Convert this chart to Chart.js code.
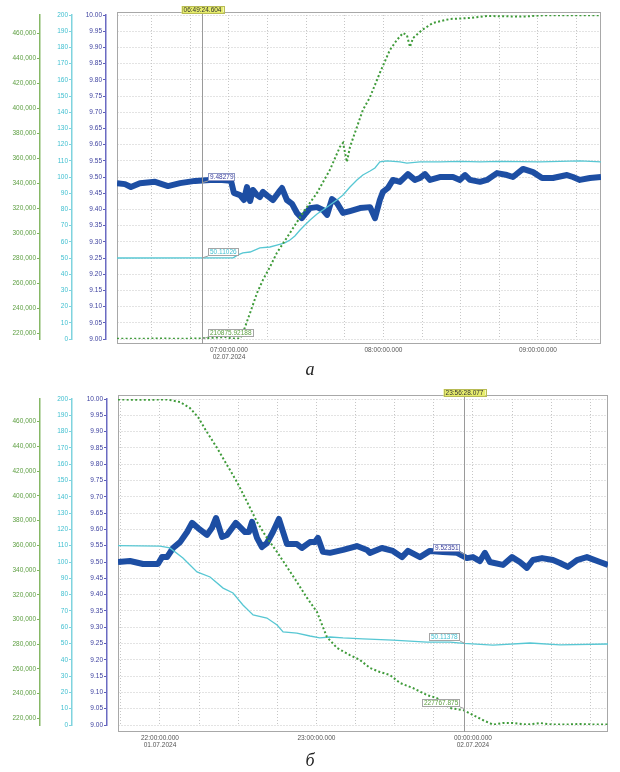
<!DOCTYPE html>
<html>
<head>
<meta charset="utf-8">
<script src="https://cdn.jsdelivr.net/npm/chart.js@4.4.0/dist/chart.umd.min.js"></script>
<style>
body{margin:0;background:#fff;width:620px;height:772px;position:relative;overflow:hidden}
canvas{position:absolute;left:0}
.cap{position:absolute;left:0;width:620px;text-align:center;font:italic 18px "Liberation Serif",serif;color:#222}
</style>
</head>
<body>
<canvas id="chartA" width="620" height="365" style="top:0"></canvas>
<div class="cap" style="top:359px">а</div>
<canvas id="chartB" width="620" height="370" style="top:384px"></canvas>
<div class="cap" style="top:750px">б</div>
<script>
// time in minutes from 00:00 of 01.07 / 02.07 (values past 1440 are after midnight)

const greenTicks = [220000, 240000, 260000, 280000, 300000, 320000, 340000, 360000, 380000, 400000, 420000, 440000, 460000];

// --- panel a ---
const rangeA = [376.5, 564.5];
const datesA = [[420, '02.07.2024']];
const greenRangeA = [215400, 474600];
const cursorA = 409.41;
const cursorTextA = '06:49:24.604';
const cursorValuesA = ['9.48279', '50.11026', '210875.92188'];

const blueA = [[376.5,9.481],[379.6,9.478],[381.9,9.469],[385.4,9.481],[391.3,9.485],[396.3,9.472],[401.0,9.481],[406.8,9.488],[412.6,9.491],[417.3,9.491],[420.8,9.488],[421.9,9.451],[424.3,9.444],[425.8,9.429],[427.0,9.469],[428.2,9.426],[429.3,9.460],[430.9,9.444],[432.0,9.438],[433.2,9.454],[435.1,9.441],[437.1,9.429],[439.4,9.454],[440.6,9.466],[442.5,9.429],[444.5,9.417],[446.4,9.389],[448.3,9.373],[449.9,9.389],[451.5,9.404],[454.2,9.407],[456.5,9.398],[458.1,9.383],[460.0,9.432],[461.9,9.420],[464.3,9.389],[467.0,9.395],[470.9,9.404],[474.8,9.407],[476.7,9.373],[478.6,9.429],[479.8,9.454],[481.7,9.466],[483.7,9.491],[486.4,9.485],[489.5,9.509],[492.2,9.491],[494.2,9.497],[496.1,9.509],[498.1,9.491],[501.9,9.500],[507.0,9.500],[509.7,9.491],[511.7,9.506],[513.6,9.491],[517.5,9.485],[520.2,9.491],[524.1,9.512],[528.0,9.506],[530.3,9.500],[534.2,9.525],[538.1,9.515],[541.6,9.497],[545.8,9.497],[551.3,9.506],[553.6,9.500],[556.3,9.491],[560.2,9.497],[564.5,9.500]];

const cyanA = [[376.5,50.0],[421.6,50.1],[423.5,51.9],[425.4,53.1],[428.2,53.7],[432.0,56.2],[435.9,56.8],[438.6,58.0],[441.7,59.3],[443.7,61.1],[445.6,63.6],[447.6,67.3],[449.5,70.4],[451.5,73.5],[454.2,77.2],[456.5,79.6],[459.2,82.7],[461.9,85.8],[464.3,88.9],[467.0,93.8],[469.7,98.1],[472.0,101.2],[474.8,103.7],[476.7,105.6],[478.6,109.3],[481.4,109.9],[486.4,109.3],[489.1,108.6],[494.2,109.3],[501.9,109.3],[509.7,109.6],[517.5,109.3],[525.2,109.6],[540.8,109.3],[556.3,109.9],[564.5,109.3]];

const greenA = [[376.5,215600],[385.4,215600],[393.2,215800],[401.0,215600],[408.7,215800],[414.6,216500],[418.4,217000],[421.2,215800],[424.3,215800],[425.4,220200],[428.2,236300],[430.9,252300],[433.2,262700],[435.9,273000],[438.6,284300],[443.7,300300],[448.7,316300],[454.2,332300],[459.2,350700],[463.1,369100],[464.3,372300],[465.8,357000],[467.0,369100],[469.7,385000],[472.0,398600],[474.8,409000],[478.6,428300],[482.5,446600],[485.2,454600],[487.6,460200],[489.1,458600],[490.3,449000],[491.5,456200],[495.0,462600],[499.2,468200],[505.8,471400],[513.6,472200],[520.2,473800],[529.1,473500],[535.7,473500],[541.9,474400],[551.3,474400],[564.5,474400]];

// --- panel b ---
const rangeB = [1303.9, 1491.8];
const datesB = [[1320, '01.07.2024'], [1440, '02.07.2024']];
const greenRangeB = [214580, 478370];
const cursorB = 1436.47;
const cursorTextB = '23:56:28.077';
const cursorValuesB = ['9.52351', '50.11378', '227767.875'];

const blueB = [[1303.9,9.500],[1308.5,9.503],[1313.5,9.494],[1319.2,9.494],[1320.8,9.515],[1322.7,9.515],[1325.0,9.543],[1327.7,9.561],[1330.4,9.592],[1332.3,9.620],[1334.6,9.604],[1338.0,9.583],[1339.9,9.604],[1341.5,9.635],[1343.8,9.577],[1345.7,9.583],[1349.1,9.620],[1352.6,9.592],[1354.1,9.592],[1355.3,9.623],[1357.2,9.574],[1359.1,9.546],[1361.0,9.558],[1363.3,9.592],[1365.6,9.632],[1368.7,9.555],[1372.5,9.555],[1374.4,9.543],[1377.5,9.561],[1379.4,9.561],[1380.6,9.574],[1382.5,9.531],[1385.2,9.528],[1390.2,9.537],[1395.5,9.549],[1399.4,9.537],[1400.5,9.528],[1405.1,9.543],[1409.3,9.534],[1412.8,9.515],[1415.1,9.534],[1419.7,9.515],[1423.5,9.534],[1428.5,9.531],[1433.9,9.528],[1437.7,9.512],[1440.0,9.515],[1442.7,9.503],[1444.6,9.528],[1446.5,9.500],[1451.5,9.491],[1455.0,9.515],[1458.0,9.500],[1460.7,9.482],[1463.0,9.506],[1466.5,9.512],[1470.7,9.506],[1473.4,9.497],[1476.4,9.485],[1479.9,9.506],[1483.7,9.515],[1488.7,9.500],[1491.8,9.491]];

const cyanB = [[1303.9,110.0],[1320.0,109.8],[1323.8,108.6],[1328.8,102.5],[1331.5,98.2],[1334.2,93.9],[1339.2,90.8],[1344.2,84.0],[1348.0,81.0],[1351.8,73.6],[1355.7,67.5],[1361.0,65.6],[1364.9,61.3],[1367.2,57.1],[1372.5,56.4],[1377.5,54.6],[1381.3,53.4],[1385.2,54.0],[1390.2,53.4],[1397.8,52.8],[1409.3,52.1],[1422.4,50.9],[1431.2,50.9],[1436.5,50.1],[1447.7,49.0],[1461.9,50.3],[1473.4,49.1],[1491.8,49.7]];

const greenB = [[1303.9,478000],[1312.3,477700],[1322.7,478000],[1327.7,475900],[1331.5,471000],[1334.6,463700],[1338.0,451600],[1341.9,438700],[1345.7,425000],[1349.5,411300],[1353.4,395100],[1357.2,378900],[1361.0,366000],[1364.9,354600],[1368.7,342500],[1372.5,330300],[1376.4,317400],[1380.2,306000],[1384.0,285800],[1387.9,276900],[1392.8,271200],[1396.7,267200],[1400.5,260700],[1404.3,257500],[1408.2,255000],[1412.0,248600],[1417.0,244500],[1422.4,238800],[1426.2,236400],[1431.2,228300],[1436.5,226500],[1440.0,222700],[1443.8,218600],[1447.7,214900],[1451.5,216200],[1455.3,216200],[1460.7,214800],[1465.7,216200],[1470.7,214900],[1476.0,215000],[1481.0,215400],[1486.0,215000],[1491.8,214900]];

Chart.defaults.font.family = '"Liberation Sans", Arial, sans-serif';

const COLORS = {
  blue: '#1d4ea3', cyan: '#57c7d3', green: '#3f9b3a',
  blueText: '#3b3f9e', cyanText: '#3fbfd0', greenText: '#5c9e40'
};

function timeLabel(v, dates) {
  if (v % 60 !== 0) return '';
  const h = String(Math.floor((v % 1440) / 60)).padStart(2, '0');
  const t = h + ':00:00.000';
  const d = dates.find(p => p[0] === v);
  return d ? [t, d[1]] : t;
}

function pts(arr) {
  return arr.map(p => ({x: p[0], y: p[1]}));
}

const cursorPlugin = {
  id: 'cursor',
  beforeDatasetsDraw(chart, args, o) {
    const {ctx, chartArea: ca} = chart;
    ctx.save();
    ctx.strokeStyle = '#a8a8a8';
    ctx.lineWidth = 1;
    ctx.strokeRect(ca.left + 0.5, ca.top - o.frameTop + 0.5, ca.width - 1, ca.height + o.frameTop + o.frameBottom - 1);
    ctx.restore();
  },
  afterDatasetsDraw(chart, args, o) {
    const {ctx, chartArea: ca, scales} = chart;
    const x = Math.round(scales.x.getPixelForValue(o.time)) + 0.5;
    ctx.save();
    ctx.strokeStyle = '#9a9a9a';
    ctx.lineWidth = 1;
    ctx.beginPath();
    ctx.moveTo(x, ca.top - 2);
    ctx.lineTo(x, ca.bottom + o.frameBottom);
    ctx.stroke();

    ctx.font = '6.5px "Liberation Sans", Arial, sans-serif';
    ctx.textBaseline = 'middle';
    ctx.textAlign = 'center';
    // time box
    const tw = ctx.measureText(o.text).width + 4;
    const ty = ca.top - o.frameTop - 6;
    ctx.fillStyle = '#e6ec6c';
    ctx.fillRect(x - tw / 2, ty, tw, 8);
    ctx.strokeStyle = '#b8bb55';
    ctx.strokeRect(Math.round(x - tw / 2) + 0.5, ty + 0.5, Math.round(tw), 7);
    ctx.fillStyle = '#333';
    ctx.fillText(o.text, x, ty + 4.5);

    // value boxes
    ctx.textAlign = 'left';
    o.values.forEach((txt, i) => {
      const axis = ['yB', 'yC', 'yG'][i];
      const col = [COLORS.blueText, COLORS.cyanText, COLORS.greenText][i];
      let py = scales[axis].getPixelForValue(parseFloat(txt));
      py = Math.min(Math.max(py, ca.top), ca.bottom);
      const w = Math.round(ctx.measureText(txt).width + 4);
      const bx = o.side > 0 ? Math.round(x + 5) : Math.round(x - 5 - w);
      const by = Math.round(py - 2 - 8);
      ctx.strokeStyle = '#a0a0a0';
      ctx.beginPath();
      ctx.moveTo(x, py);
      ctx.lineTo(o.side > 0 ? bx : bx + w, by + 8);
      ctx.stroke();
      ctx.fillStyle = '#fff';
      ctx.fillRect(bx, by, w, 8);
      ctx.strokeStyle = i === 0 ? '#8d96c4' : '#a5a5a5';
      ctx.strokeRect(bx + 0.5, by + 0.5, w - 1, 7);
      ctx.fillStyle = col;
      ctx.fillText(txt, bx + 2, by + 4.5);
    });
    ctx.restore();
  }
};

function makePanel(id, cfg) {
  const ctx = document.getElementById(id).getContext('2d');
  const tickFont = {size: 6.5};
  return new Chart(ctx, {
    type: 'line',
    data: {
      datasets: [
        {label: 'green', data: pts(cfg.green), yAxisID: 'yG', borderColor: COLORS.green, borderWidth: 2, borderDash: [2, 2.3], pointRadius: 0, tension: 0, order: 0},
        {label: 'cyan', data: pts(cfg.cyan), yAxisID: 'yC', borderColor: COLORS.cyan, borderWidth: 1.3, pointRadius: 0, tension: 0, order: 1},
        {label: 'blue', data: pts(cfg.blue), yAxisID: 'yB', borderColor: COLORS.blue, borderWidth: 6, pointRadius: 0, tension: 0, order: 2, borderJoinStyle: 'round'}
      ]
    },
    options: {
      responsive: false,
      animation: false,
      layout: {padding: {left: 0, right: cfg.padRight, top: 15, bottom: 0}},
      plugins: {
        legend: {display: false},
        tooltip: {enabled: false},
        cursor: {time: cfg.cursor, text: cfg.cursorText, values: cfg.values, side: cfg.side, frameTop: cfg.frameTop, frameBottom: cfg.frameBottom}
      },
      scales: {
        x: {
          type: 'linear', min: cfg.range[0], max: cfg.range[1],
          grid: {color: '#c6c6c6', drawTicks: false},
          border: {display: false, dash: [1, 2]},
          ticks: {stepSize: 15, includeBounds: false, autoSkip: false, maxRotation: 0, padding: cfg.xPad, color: '#555', font: tickFont,
            callback: v => timeLabel(v, cfg.dates)},
          afterFit: s => { s.height = cfg.xHeight; }
        },
        yG: {
          position: 'left', weight: 3, min: cfg.greenRange[0], max: cfg.greenRange[1],
          grid: {drawOnChartArea: false, tickLength: 3, tickColor: '#7fb25f', tickWidth: 1},
          border: {color: '#86b866', width: 1.5},
          ticks: {padding: 1, color: COLORS.greenText, font: tickFont,
            callback: v => v.toLocaleString('en-US')},
          afterBuildTicks: s => { s.ticks = greenTicks.map(v => ({value: v})); },
          afterFit: s => { s.width = 40; }
        },
        yC: {
          position: 'left', weight: 2, min: 0, max: 200,
          grid: {drawOnChartArea: false, tickLength: 3, tickColor: '#7fd3de', tickWidth: 1},
          border: {color: '#7fd3de', width: 1.5},
          ticks: {stepSize: 10, padding: 1, color: COLORS.cyanText, font: tickFont},
          afterFit: s => { s.width = 32; }
        },
        yB: {
          position: 'left', weight: 1, min: 9, max: 10,
          grid: {color: '#c6c6c6', tickLength: 3, tickColor: '#5d5db8', tickWidth: 1, tickBorderDash: []},
          border: {color: '#6b6bc2', width: 1.5, dash: [1, 2]},
          ticks: {stepSize: 0.05, padding: 1, color: COLORS.blueText, font: tickFont,
            callback: v => v.toFixed(2)},
          afterFit: s => { s.width = cfg.blueWidth; }
        },
        yGap: {
          position: 'left', weight: 0, display: true,
          grid: {display: false}, border: {display: false}, ticks: {display: false},
          afterFit: s => { s.width = 11; }
        }
      }
    },
    plugins: [cursorPlugin]
  });
}

makePanel('chartA', {
  range: rangeA, dates: datesA, greenRange: greenRangeA,
  blue: blueA, cyan: cyanA, green: greenA,
  cursor: cursorA, cursorText: cursorTextA, values: cursorValuesA, side: 1,
  padRight: 19, xHeight: 26, xPad: 7, blueWidth: 34, frameTop: 3, frameBottom: 5
});

makePanel('chartB', {
  range: rangeB, dates: datesB, greenRange: greenRangeB,
  blue: blueB, cyan: cyanB, green: greenB,
  cursor: cursorB, cursorText: cursorTextB, values: cursorValuesB, side: -1,
  padRight: 12, xHeight: 29, xPad: 9, blueWidth: 35, frameTop: 4, frameBottom: 7
});
</script>
</body>
</html>
